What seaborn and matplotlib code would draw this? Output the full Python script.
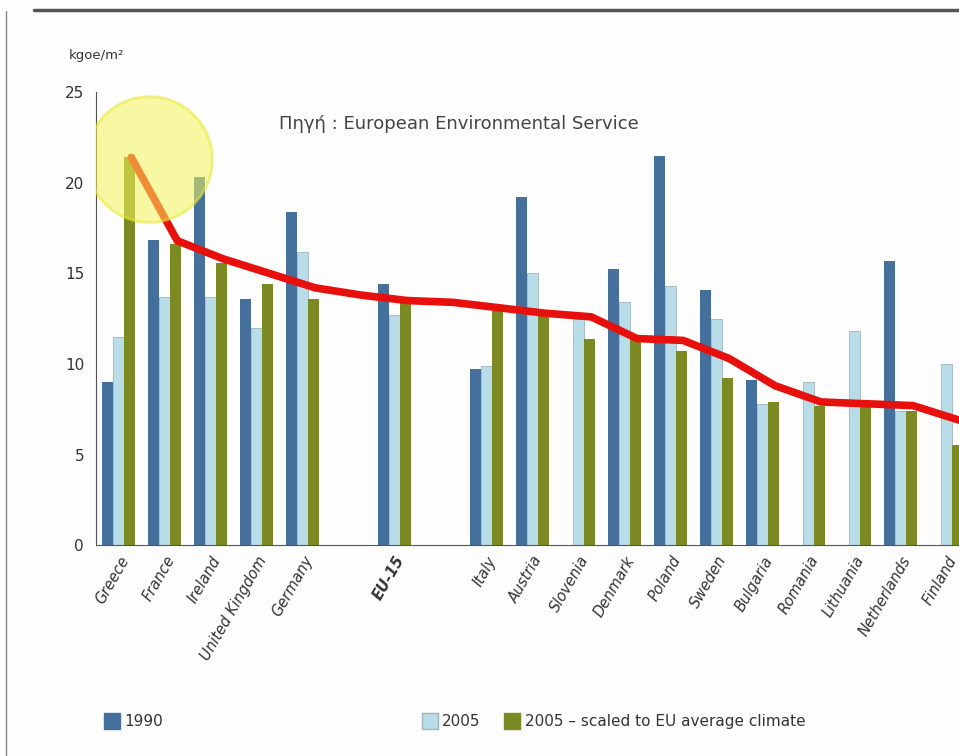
import numpy as np
import pandas as pd
import matplotlib
matplotlib.use("Agg")
import matplotlib.pyplot as plt
import seaborn as sns
from matplotlib.lines import Line2D

sns.set_style("white")
plt.rcParams['font.family'] = ['DejaVu Sans']

# data (kgoe/m2), None = no bar; blank slots are spacer gaps
countries = ["Greece", "France", "Ireland", "United Kingdom", "Germany", " ",
             "EU-15", "  ", "Italy", "Austria", "Slovenia", "Denmark", "Poland",
             "Sweden", "Bulgaria", "Romania", "Lithuania", "Netherlands", "Finland"]
v1990 = [9.0, 16.85, 20.3, 13.6, 18.4, None, 14.4, None, 9.7, 19.2, None,
         15.25, 21.5, 14.1, 9.1, None, None, 15.7, None]
v2005 = [11.5, 13.7, 13.7, 12.0, 16.2, None, 12.7, None, 9.9, 15.0, 12.5,
         13.4, 14.3, 12.5, 7.8, 9.0, 11.8, 7.4, 10.0]
v2005_scaled = [21.4, 16.6, 15.6, 14.4, 13.6, None, 13.5, None, 12.9, 12.8, 11.4,
                11.3, 10.7, 9.2, 7.9, 7.7, 7.6, 7.4, 5.5]
# hand-drawn red trend line (value at each slot)
trend = [21.4, 16.8, 15.8, 15.0, 14.2, 13.8, 13.5, 13.4, 13.1, 12.8, 12.6,
         11.4, 11.3, 10.3, 8.8, 7.9, 7.8, 7.7, 6.9]

series = ["1990", "2005", "2005 \u2013 scaled to EU average climate"]
colors = ["#46709c", "#b9dde8", "#7b8a22"]

df = pd.DataFrame({
    "country": countries * 3,
    "series": np.repeat(series, len(countries)),
    "value": pd.to_numeric(pd.Series(v1990 + v2005 + v2005_scaled), errors="coerce"),
})

fig = plt.figure(figsize=(9.59, 7.56), dpi=100)
fig.patch.set_facecolor("#fdfdfd")
ax = fig.add_axes([0.100, 0.279, 0.900, 0.599])
ax.set_facecolor("none")

sns.barplot(data=df, x="country", y="value", hue="series", order=countries,
            hue_order=series, palette=colors, width=0.72, saturation=1,
            edgecolor="none", legend=False, ax=ax)
for bar in ax.containers[1]:
    bar.set_edgecolor("#9fb4bd")
    bar.set_linewidth(0.6)

x = np.arange(len(countries))
ax.plot(x + 0.27, trend, color="#e8100c", lw=5.5, solid_capstyle="round",
        solid_joinstyle="round", zorder=5)

# yellow highlight circle
ax.scatter([0.65], [21.3], s=8200, color="#f5f55a", alpha=0.55,
           edgecolors="#e8e830", linewidths=2, zorder=6)

ax.set_xlim(-0.5, 18.27)
ax.set_ylim(0, 25)
ax.set_yticks([0, 5, 10, 15, 20, 25])
ax.tick_params(axis="y", length=5, labelsize=11, colors="#333333", direction="out")
ax.set_xticks(x)
labels = ["" if c.strip() == "" else c for c in countries]
ax.set_xticklabels(labels, rotation=60, ha="right", rotation_mode="anchor",
                   style="italic", fontsize=10.5, color="#333333")
for t in ax.get_xticklabels():
    if t.get_text() == "EU-15":
        t.set_fontweight("bold")
ax.tick_params(axis="x", length=0, pad=6)
ax.set_xticks(x[:-1] + 0.5, minor=True)
ax.tick_params(axis="x", which="minor", length=5, color="#555555", direction="out")
ax.set_xlabel("")
ax.set_ylabel("")
sns.despine(ax=ax)
ax.spines["left"].set_color("#555555")
ax.spines["bottom"].set_color("#555555")

fig.text(0.072, 0.922, "kgoe/m\u00b2", fontsize=9.5, color="#333333")
ax.text(0.42, 0.93, "\u03a0\u03b7\u03b3\u03ae : European Environmental Service",
        transform=ax.transAxes, ha="center", va="center", fontsize=13, color="#444444")

# legend entries placed separately as in the original
leg_x = [0.095, 0.426, 0.512]
for i in range(3):
    h = Line2D([], [], marker="s", markersize=11, linestyle="none",
               markerfacecolor=colors[i],
               markeredgecolor="#9fb4bd" if i == 1 else colors[i])
    lg = fig.legend([h], [series[i]], loc="center left", bbox_to_anchor=(leg_x[i], 0.045),
                    frameon=False, fontsize=11, handletextpad=0.3, handlelength=1.0)
    for t in lg.get_texts():
        t.set_color("#333333")

# scan border lines
fig.add_artist(Line2D([0.035, 1.0], [0.987, 0.987], color="#555555", lw=2.5))
fig.add_artist(Line2D([0.006, 0.006], [0.0, 0.985], color="#888888", lw=1))

fig.savefig("out.png", dpi=100, facecolor=fig.get_facecolor())
